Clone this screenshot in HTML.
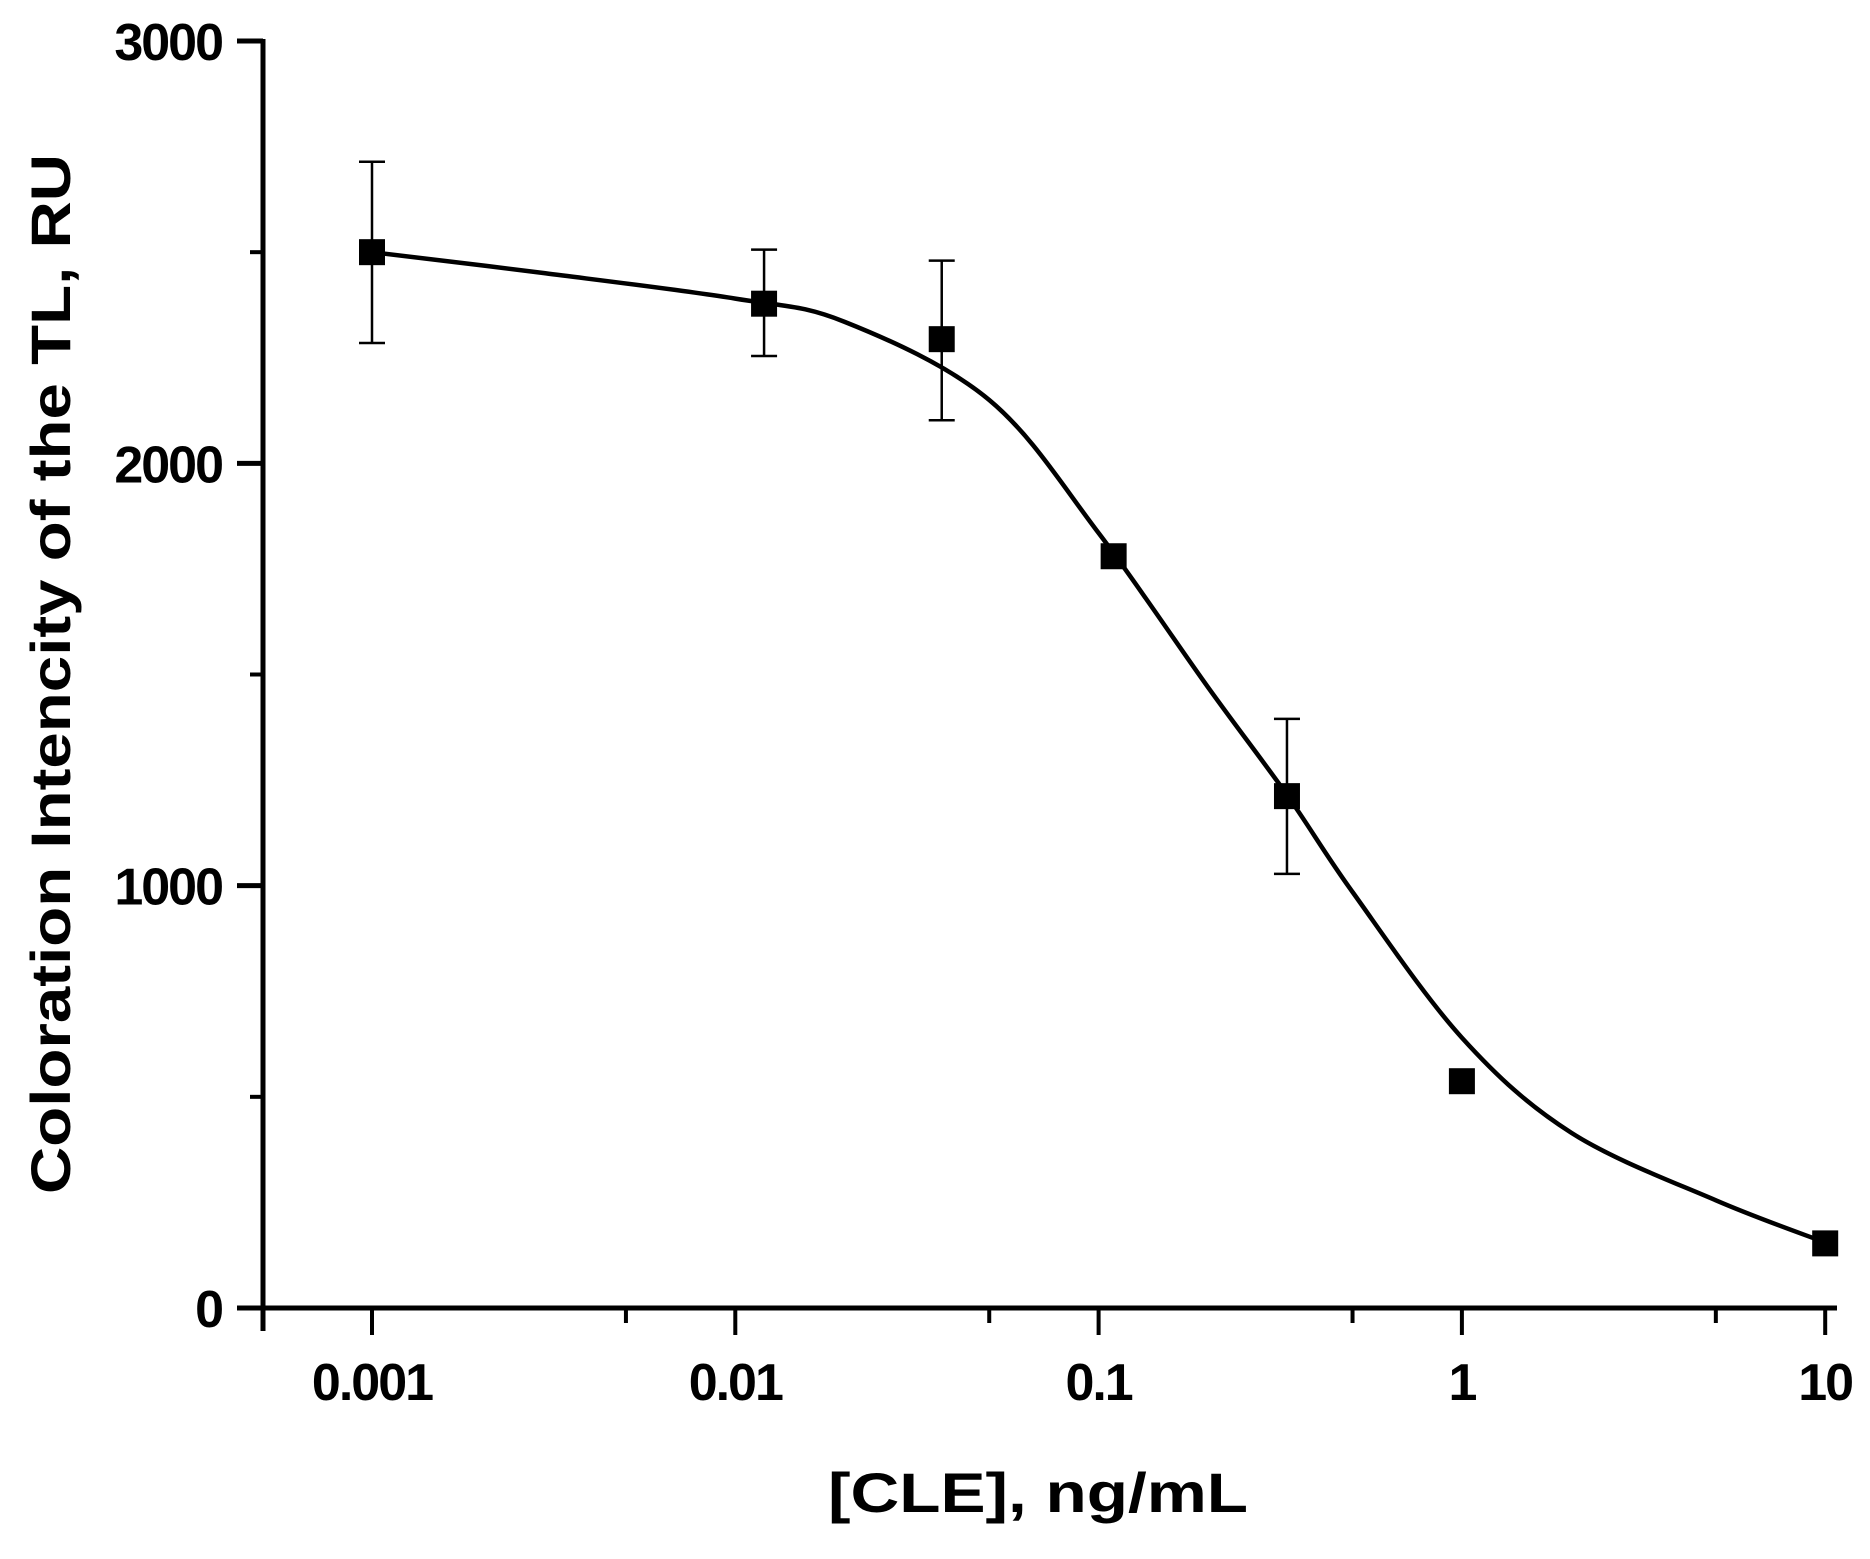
<!DOCTYPE html>
<html><head><meta charset="utf-8">
<style>
html,body{margin:0;padding:0;background:#fff;}
svg{display:block;font-family:"Liberation Sans",Arial,sans-serif;font-weight:bold;}
</style></head>
<body>
<svg id="chart" width="1870" height="1559" viewBox="0 0 1870 1559" xmlns="http://www.w3.org/2000/svg">
<g id="axes"></g>
<g id="curve-g"></g>
<g id="points-g"></g>
<text x="1038" y="1512" font-size="56" text-anchor="middle" textLength="420" lengthAdjust="spacingAndGlyphs">[CLE], ng/mL</text>
<text transform="translate(70,674) rotate(-90)" font-size="56" text-anchor="middle" textLength="1040" lengthAdjust="spacingAndGlyphs">Coloration Intencity of the TL, RU</text>
</svg>
<script>
// data
const concentrations = [0.001, 0.012, 0.037, 0.11, 0.33, 1, 10];
const intensity = [2500, 2378, 2294, 1780, 1212, 537, 153];
const errUpper = [2714, 2506, 2480, 1790, 1395, 537, 153];
const errLower = [2285, 2254, 2102, 1770, 1028, 537, 153];
const curveX = [0.001, 0.003, 0.01, 0.02, 0.05, 0.1, 0.2, 0.33, 0.5, 1, 2, 5, 10];
const curveY = [2500, 2450, 2390, 2335, 2150, 1835, 1470, 1215, 985, 640, 415, 255, 155];
const yTicks = [0, 1000, 2000, 3000];
const yTickLabels = ["0", "1000", "2000", "3000"];
const yMinorTicks = [500, 1500, 2500];
const xTicks = [0.001, 0.01, 0.1, 1, 10];
const xTickLabels = ["0.001", "0.01", "0.1", "1", "10"];
const xMinorTicks = [0.0005, 0.005, 0.05, 0.5, 5];

const NS = "http://www.w3.org/2000/svg";
const X0 = 372, DEC = 363.3, Y0 = 1308, YS = 1267 / 3000;
function xPix(v) { return X0 + (Math.log10(v) + 3) * DEC; }
function yPix(v) { return Y0 - v * YS; }
function mk(tag, attrs, parent) {
  const e = document.createElementNS(NS, tag);
  for (const k in attrs) e.setAttribute(k, attrs[k]);
  parent.appendChild(e);
  return e;
}
const axes = document.getElementById('axes');
let el;
el = mk('line', {x1: 263, y1: 39, x2: 263, y2: 1331, stroke: '#000', 'stroke-width': 5}, axes);


el = mk('line', {x1: 240, y1: Y0, x2: 1837, y2: Y0, stroke: '#000', 'stroke-width': 5}, axes);



yTicks.forEach((v, i) => {
  const y = yPix(v);
  let t = mk('line', {x1: 237, y1: y, x2: 263, y2: y, stroke: '#000', 'stroke-width': 5}, axes);
  
  
  let l = mk('text', {x: 222, y: y + 19, 'font-size': 52, 'letter-spacing': -2, 'text-anchor': 'end'}, axes);
  l.textContent = yTickLabels[i];
  
  
});
yMinorTicks.forEach(v => {
  const y = yPix(v);
  let t = mk('line', {x1: 250, y1: y, x2: 263, y2: y, stroke: '#000', 'stroke-width': 4}, axes);
  
  
});
xTicks.forEach((v, i) => {
  const x = xPix(v);
  let t = mk('line', {x1: x, y1: Y0, x2: x, y2: Y0 + 27, stroke: '#000', 'stroke-width': 4}, axes);
  
  
  let l = mk('text', {x: x, y: 1400, 'font-size': 52, 'letter-spacing': -2, 'text-anchor': 'middle'}, axes);
  l.textContent = xTickLabels[i];
  
  
});
xMinorTicks.forEach(v => {
  const x = xPix(v);
  let t = mk('line', {x1: x, y1: Y0, x2: x, y2: Y0 + 15, stroke: '#000', 'stroke-width': 4}, axes);
  
  
});

// curve (Catmull-Rom through picture-read points)
const pts = curveX.map((v, i) => [xPix(v), yPix(curveY[i])]);
let d = 'M' + pts[0][0] + ',' + pts[0][1];
for (let i = 0; i < pts.length - 1; i++) {
  const p0 = pts[Math.max(0, i - 1)], p1 = pts[i], p2 = pts[i + 1], p3 = pts[Math.min(pts.length - 1, i + 2)];
  const c1 = [p1[0] + (p2[0] - p0[0]) / 6, p1[1] + (p2[1] - p0[1]) / 6];
  const c2 = [p2[0] - (p3[0] - p1[0]) / 6, p2[1] - (p3[1] - p1[1]) / 6];
  d += ' C' + c1.join(',') + ' ' + c2.join(',') + ' ' + p2.join(',');
}
el = mk('path', {d: d, fill: 'none', stroke: '#000', 'stroke-width': 4.5}, document.getElementById('curve-g'));



const pg = document.getElementById('points-g');
concentrations.forEach((c, i) => {
  const x = xPix(c);
  const yu = yPix(errUpper[i]), yl = yPix(errLower[i]);
  if (errUpper[i] - errLower[i] > 30) {
    let e = mk('path', {d: `M${x},${yu}V${yl}M${x-13},${yu}H${x+13}M${x-13},${yl}H${x+13}`, stroke: '#000', 'stroke-width': 2.5, fill: 'none'}, pg);
    
    
  }
  let r = mk('rect', {x: x - 13, y: yPix(intensity[i]) - 13, width: 26, height: 26, fill: '#000'}, pg);
  
  
});
</script>
</body></html>
